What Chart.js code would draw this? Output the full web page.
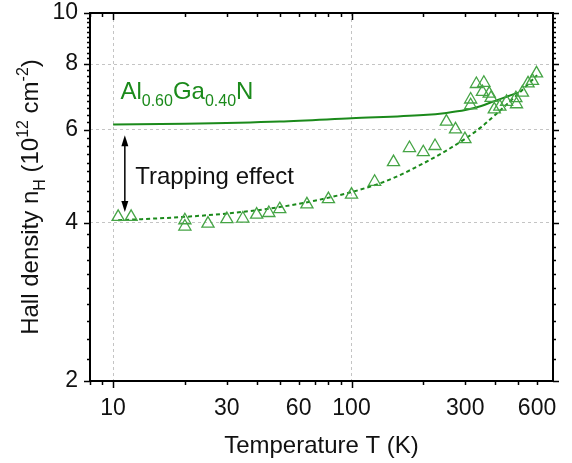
<!DOCTYPE html>
<html>
<head>
<meta charset="utf-8">
<script src="https://cdn.jsdelivr.net/npm/chart.js@4.4.1/dist/chart.umd.min.js"></script>
<style>
  html, body { margin: 0; padding: 0; background: #fff; }
  #wrap { width: 572px; height: 463px; }
</style>
</head>
<body>
<div id="wrap"><canvas id="c" width="572" height="463"></canvas></div>
<script>
// ---- data ----
const measT = [10.5, 11.9, 20, 20, 25, 30, 35, 40, 45, 50, 65, 80, 100, 125, 150, 175, 200, 224, 250, 273, 299, 316, 316, 334, 354, 359, 378, 385, 397, 419, 447, 489, 492, 521, 550, 574, 597];
const measN = [4.10, 4.10, 4.04, 3.93, 3.98, 4.06, 4.07, 4.14, 4.17, 4.24, 4.33, 4.43, 4.52, 4.78, 5.21, 5.54, 5.44, 5.59, 6.22, 6.01, 5.76, 6.68, 6.85, 7.33, 7.08, 7.37, 7.03, 6.90, 6.56, 6.64, 6.78, 6.89, 6.71, 7.06, 7.35, 7.43, 7.68];

const modelT = [10, 20, 50, 100, 200, 250, 300, 350, 400, 450, 500];
const modelN = [6.14, 6.16, 6.22, 6.31, 6.40, 6.46, 6.54, 6.66, 6.81, 6.94, 7.06];

const fitT = [10.5, 20, 35, 50, 70, 100, 125, 150, 200, 250, 300, 350, 400, 450, 500, 550, 600];
const fitN = [4.04, 4.10, 4.19, 4.28, 4.40, 4.57, 4.71, 4.86, 5.18, 5.48, 5.77, 6.07, 6.40, 6.72, 7.02, 7.32, 7.62];

const xTickLabels = [10, 30, 60, 100, 300, 600];
const xGridValues = [10, 100];
const xMajorMarks = [10, 100];
const xMinorMarks = [8, 9, 20, 30, 40, 50, 60, 70, 80, 90, 200, 300, 400, 500, 600];
const yTickLabels = [2, 4, 6, 8, 10];
const yGridValues = [4, 6, 8];
const yMajorMarks = [2, 4, 6, 8, 10];
const yMinorMarks = [2.2, 2.4, 2.6, 2.8, 3.0, 3.2, 3.4, 3.6, 3.8, 4.2, 4.4, 4.6, 4.8, 5.0, 5.2, 5.4, 5.6, 5.8, 6.2, 6.4, 6.6, 6.8, 7.0, 7.2, 7.4, 7.6, 7.8, 8.2, 8.4, 8.6, 8.8, 9.0, 9.2, 9.4, 9.6, 9.8];

const arrowT = 11.2;
const arrowN = [5.86, 4.19];

// ---- styles ----
const FONT = '"Liberation Sans", Arial, Helvetica, sans-serif';
const GREEN = '#1b8a1b';
const GREEN_PT = '#45a445';

const pts = (xs, ys) => xs.map((v, i) => ({ x: v, y: ys[i] }));

function drawRich(ctx, parts, x, y, align) {
  const big = 24, small = 16;
  let total = 0;
  for (const [t, k] of parts) {
    ctx.font = (k === 0 ? big : small) + 'px ' + FONT;
    total += ctx.measureText(t).width;
  }
  let cx = align === 'center' ? x - total / 2 : x;
  ctx.textAlign = 'left';
  ctx.textBaseline = 'alphabetic';
  for (const [t, k] of parts) {
    ctx.font = (k === 0 ? big : small) + 'px ' + FONT;
    const dy = k === -1 ? 7 : (k === 1 ? -10 : 0);
    ctx.fillText(t, cx, y + dy);
    cx += ctx.measureText(t).width;
  }
}

const overlay = {
  id: 'overlay',
  afterDraw(chart) {
    const { ctx, chartArea: a, scales: { x, y } } = chart;
    ctx.save();
    ctx.strokeStyle = '#000';
    ctx.lineWidth = 1.5;
    const seg = (x1, y1, x2, y2) => { ctx.beginPath(); ctx.moveTo(x1, y1); ctx.lineTo(x2, y2); ctx.stroke(); };
    for (const v of xMinorMarks) {
      const p = Math.round(x.getPixelForValue(v)) + 0.5;
      seg(p, a.bottom, p, a.bottom + 4);
      seg(p, a.top, p, a.top + 4);
    }
    for (const v of xMajorMarks) {
      const p = Math.round(x.getPixelForValue(v)) + 0.5;
      seg(p, a.bottom, p, a.bottom + 7);
      seg(p, a.top, p, a.top + 7);
    }
    for (const v of yMinorMarks) {
      const p = Math.round(y.getPixelForValue(v)) + 0.5;
      seg(a.left - 3, p, a.left, p);
      seg(a.right, p, a.right + 3, p);
    }
    for (const v of yMajorMarks) {
      const p = Math.round(y.getPixelForValue(v)) + 0.5;
      seg(a.left - 6, p, a.left, p);
      seg(a.right, p, a.right + 6, p);
    }
    ctx.lineWidth = 2;
    ctx.strokeRect(a.left, a.top, a.right - a.left, a.bottom - a.top);

    // arrow
    const ax = x.getPixelForValue(arrowT);
    const ay1 = y.getPixelForValue(arrowN[0]);
    const ay2 = y.getPixelForValue(arrowN[1]);
    ctx.lineWidth = 1.5;
    ctx.fillStyle = '#000';
    seg(ax, ay1 + 6, ax, ay2 - 6);
    ctx.beginPath(); ctx.moveTo(ax, ay1); ctx.lineTo(ax - 3.5, ay1 + 11); ctx.lineTo(ax + 3.5, ay1 + 11); ctx.closePath(); ctx.fill();
    ctx.beginPath(); ctx.moveTo(ax, ay2); ctx.lineTo(ax - 3.5, ay2 - 11); ctx.lineTo(ax + 3.5, ay2 - 11); ctx.closePath(); ctx.fill();

    // annotations
    ctx.fillStyle = '#111';
    ctx.font = '24px ' + FONT;
    ctx.textAlign = 'left';
    ctx.textBaseline = 'alphabetic';
    ctx.fillText('Trapping effect', x.getPixelForValue(12.37), y.getPixelForValue(4.73));

    ctx.fillStyle = GREEN;
    drawRich(ctx, [['Al', 0], ['0.60', -1], ['Ga', 0], ['0.40', -1], ['N', 0]],
      x.getPixelForValue(10.73), y.getPixelForValue(6.87), 'left');

    // axis titles
    ctx.fillStyle = '#111';
    ctx.font = '24px ' + FONT;
    ctx.textAlign = 'center';
    ctx.fillText('Temperature T (K)', (a.left + a.right) / 2, 453);

    ctx.save();
    ctx.translate(38, (a.top + a.bottom) / 2);
    ctx.rotate(-Math.PI / 2);
    drawRich(ctx, [['Hall density n', 0], ['H', -1], [' (10', 0], ['12', 1], [' cm', 0], ['-2', 1], [')', 0]], 0, 0, 'center');
    ctx.restore();
    ctx.restore();
  }
};

const zeroPad = s => { s.paddingTop = 0; s.paddingBottom = 0; s.paddingLeft = 0; s.paddingRight = 0; };

new Chart(document.getElementById('c'), {
  type: 'scatter',
  data: {
    datasets: [
      {
        type: 'line', label: 'model', data: pts(modelT, modelN),
        borderColor: GREEN, borderWidth: 2, pointRadius: 0,
        cubicInterpolationMode: 'monotone', fill: false, order: 2
      },
      {
        type: 'line', label: 'fit', data: pts(fitT, fitN),
        borderColor: GREEN, borderWidth: 2, borderDash: [4, 3], pointRadius: 0,
        cubicInterpolationMode: 'monotone', fill: false, order: 1
      },
      {
        label: 'measured', data: pts(measT, measN),
        pointStyle: 'triangle', pointRadius: 7, pointBorderWidth: 1.3,
        pointBorderColor: GREEN_PT, pointBackgroundColor: 'rgba(0,0,0,0)',
        borderColor: GREEN_PT, backgroundColor: 'rgba(0,0,0,0)', order: 0
      }
    ]
  },
  options: {
    responsive: false,
    animation: false,
    layout: { padding: { top: 13, right: 19, left: 0, bottom: 0 } },
    plugins: { legend: { display: false }, tooltip: { enabled: false } },
    scales: {
      x: {
        type: 'logarithmic', min: 8, max: 700,
        afterBuildTicks: s => { s.ticks = xTickLabels.map(v => ({ value: v })); },
        afterFit: s => { s.height = 82; zeroPad(s); },
        border: { display: false, dash: [3, 3] },
        grid: {
          drawTicks: false,
          color: c => (c.tick && xGridValues.includes(c.tick.value)) ? '#c4c4c4' : 'rgba(0,0,0,0)',
          lineWidth: 1
        },
        ticks: {
          autoSkip: false, maxRotation: 0, padding: 14, color: '#111',
          font: { family: FONT, size: 23 },
          callback: v => String(v)
        }
      },
      y: {
        type: 'logarithmic', min: 2, max: 10,
        afterBuildTicks: s => { s.ticks = yTickLabels.map(v => ({ value: v })); },
        afterFit: s => { s.width = 90; zeroPad(s); },
        border: { display: false, dash: [3, 3] },
        grid: {
          drawTicks: false,
          color: c => (c.tick && yGridValues.includes(c.tick.value)) ? '#c4c4c4' : 'rgba(0,0,0,0)',
          lineWidth: 1
        },
        ticks: {
          autoSkip: false, padding: 12, color: '#111',
          font: { family: FONT, size: 23 },
          callback: v => String(v)
        }
      }
    }
  },
  plugins: [overlay]
});
</script>
</body>
</html>
